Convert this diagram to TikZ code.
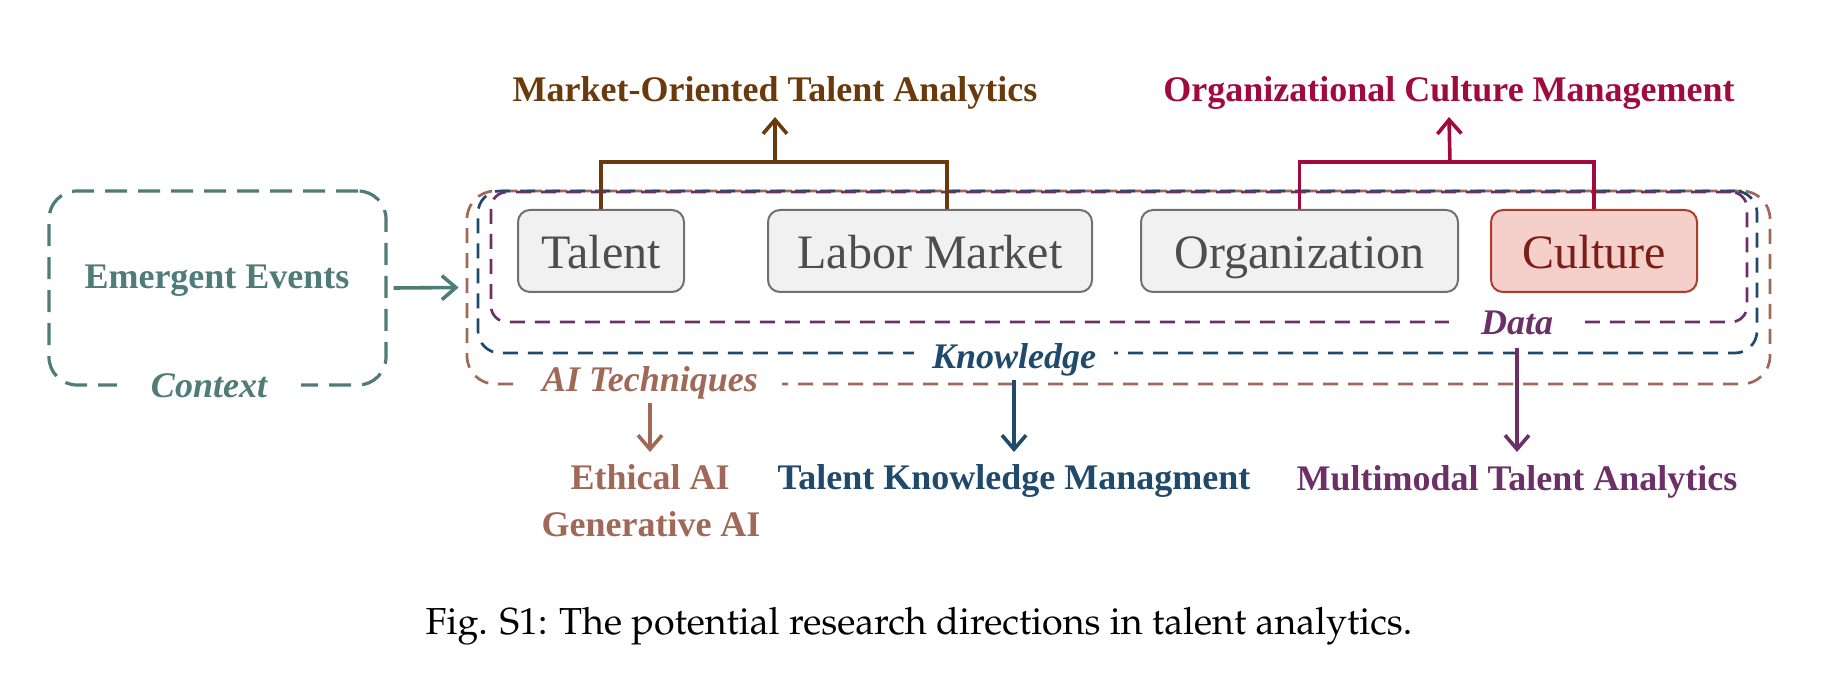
\documentclass[tikz,border=0pt]{standalone}
\usepackage[T1]{fontenc}
\usepackage{fontspec}
\setmainfont{Liberation Serif}
\usetikzlibrary{arrows.meta,calc}
\definecolor{cteal}{RGB}{79,123,120}
\definecolor{cmarket}{RGB}{107,58,12}
\definecolor{corg}{RGB}{160,10,60}
\definecolor{cai}{RGB}{160,104,87}
\definecolor{cknow}{RGB}{31,74,107}
\definecolor{cdata}{RGB}{108,47,104}
\definecolor{boxfill}{RGB}{241,241,241}
\definecolor{boxline}{RGB}{112,112,112}
\definecolor{boxtext}{RGB}{77,77,77}
\definecolor{culfill}{RGB}{245,207,202}
\definecolor{culline}{RGB}{176,58,46}
\definecolor{cultext}{RGB}{123,30,22}
\begin{document}
\begin{tikzpicture}[x=0.5pt,y=-0.5pt,
  ent/.style={draw=boxline, fill=boxfill, line width=1pt, rounded corners=6pt,
    minimum height=41pt, inner sep=0pt, text=boxtext, text height=18pt, text depth=0pt,
    font=\fontsize{24}{28}\selectfont},
  lab/.style={font=\fontsize{18}{21}\selectfont\bfseries, anchor=base, inner sep=0pt},
  onl/.style={font=\fontsize{18}{21}\selectfont\bfseries\itshape, fill=white,
    inner ysep=1pt, anchor=base},
  nest/.style={line width=1.35pt, dash pattern=on 7.5pt off 5pt},
  arr/.style={line width=1.8pt, -{Straight Barb[length=7pt,width=12pt]}},
  brk/.style={line width=1.8pt},
]
\useasboundingbox (0,0) rectangle (1840,678);

% context
\node[draw=cteal, line width=1.6pt, dash pattern=on 11pt off 5.5pt, rounded corners=14pt,
  minimum width=168.5pt, minimum height=97pt, inner sep=0pt] (ctx) at (217.5,288) {};
\node[lab, text=cteal] (emerg) at (217,289) {Emergent Events};
\node[onl, text=cteal, inner xsep=17pt] (ctxlab) at (209,397) {Context};

% nested containers
\node[nest, draw=cai, rounded corners=14pt, minimum width=651.5pt, minimum height=96.5pt, inner sep=0pt] (aibox) at (1118.5,287.5) {};
\node[nest, draw=cknow, rounded corners=11pt, minimum width=639.5pt, minimum height=81pt, inner sep=0pt] (knbox) at (1117.5,272) {};
\node[nest, draw=cdata, rounded corners=8pt, minimum width=628pt, minimum height=65pt, inner sep=0pt] (dtbox) at (1119,257) {};

\draw[arr, cteal] ([xshift=3pt]ctx.east) -- ([xshift=-3.5pt]aibox.west);

% entity boxes
\node[ent, minimum width=83pt] (talent) at (601,251) {Talent};
\node[ent, minimum width=162pt] (labor) at (930,251) {Labor Market};
\node[ent, minimum width=158.5pt] (org) at (1299.5,251) {Organization};
\node[ent, minimum width=103pt, draw=culline, fill=culfill, text=cultext] (culture) at (1594,251) {Culture};

% top labels
\node[lab, text=cmarket] (market) at (775,102) {Market-Oriented Talent Analytics};
\node[lab, text=corg] (orgcm) at (1449,102) {Organizational Culture Management};

% brackets
\coordinate (lb) at ($(labor.north)+(17,0)$);
\draw[brk, cmarket] (talent.north) -- ++(0,-47) -| (lb);
\coordinate (mkbr) at (775,163);
\draw[arr, cmarket] (mkbr) -- ($(market.base)+(0,15)$);
\draw[brk, corg] (org.north) -- ++(0,-47) -| (culture.north);
\coordinate (ocbr) at (1450,163);
\draw[arr, corg] (ocbr) -- ($(orgcm.base)+(0,15)$);

% labels on the containers
\node[onl, text=cai, inner xsep=12pt] (ailab) at (650,392) {AI Techniques};
\node[onl, text=cknow, inner xsep=9pt] (knlab) at (1014,368) {Knowledge};
\node[onl, text=cdata, inner xsep=16pt] (dtlab) at (1517,335) {Data};

% bottom labels
\node[lab, text=cai] (ethical) at (650,489) {Ethical AI};
\node[lab, text=cai] (genai) at (651,536) {Generative AI};
\node[lab, text=cknow] (tkm) at (1014,489) {Talent Knowledge Managment};
\node[lab, text=cdata] (mmta) at (1517,490) {Multimodal Talent Analytics};

\draw[arr, cai] ($(ailab.base)+(0,11)$) -- ($(ethical.base)+(0,-37)$);
\draw[arr, cknow] ($(knlab.base)+(0,12)$) -- ($(tkm.base)+(0,-37)$);
\draw[arr, cdata] ($(dtlab.base)+(0,13)$) -- ($(mmta.base)+(0,-38)$);

% caption
\node[anchor=base, inner sep=0pt, font=\fontencoding{T1}\fontfamily{ppl}\fontsize{18.8}{22}\selectfont] (cap) at (919,634) {Fig. S1: The potential research directions in talent analytics.};
\end{tikzpicture}
\end{document}
